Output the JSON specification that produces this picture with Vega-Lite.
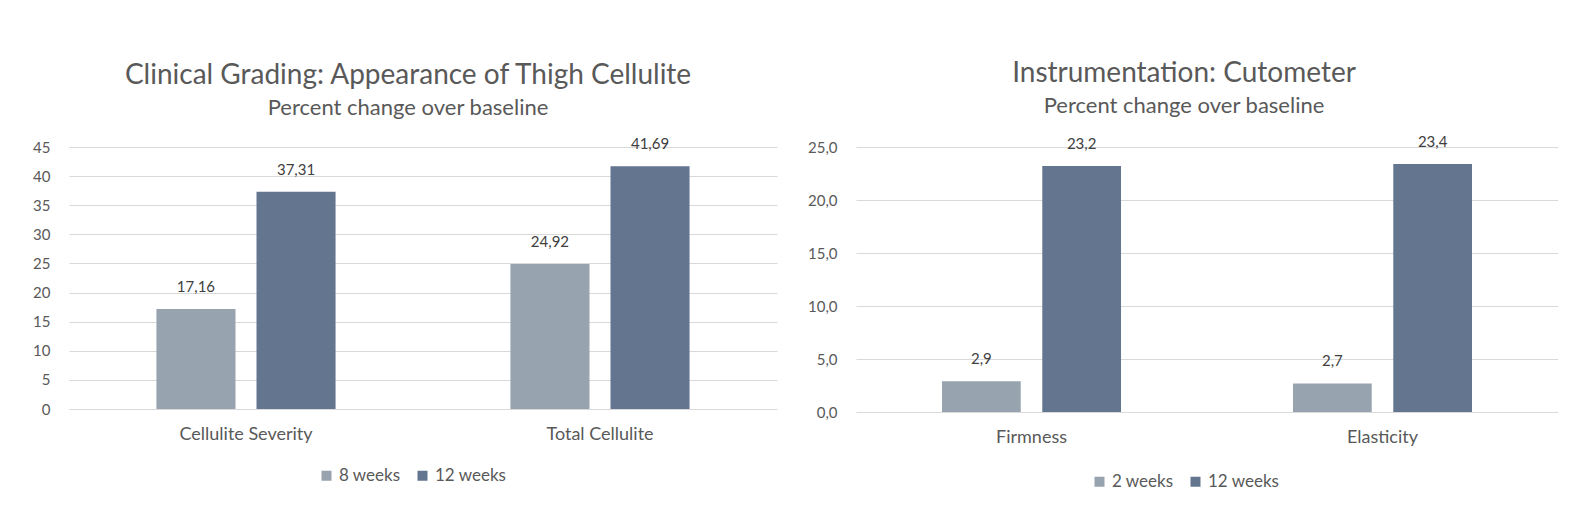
{
  "$schema": "https://vega.github.io/schema/vega-lite/v6.json",
  "background": "white",
  "padding": {"left": 32, "top": 59, "right": 0, "bottom": 0},
  "spacing": 30,
  "resolve": {"scale": {"x": "independent", "y": "independent", "xOffset": "independent", "color": "independent"}, "legend": {"color": "independent"}},
  "config": {
    "locale": {"number": {"decimal": ",", "thousands": ".", "grouping": [3], "currency": ["", " €"]}},
    "font": "Lato",
    "view": {"stroke": null},
    "axis": {"labelFont": "Lato", "labelFontSize": 15, "labelColor": "#595959", "ticks": false, "domain": false, "title": null, "gridColor": "#D9D9D9", "gridWidth": 1},
    "axisY": {"labelPadding": 19},
    "axisX": {"labelPadding": 16, "labelAngle": 0, "grid": false, "labelFontSize": 18},
    "title": {"font": "Lato", "fontSize": 28, "fontWeight": "normal", "color": "#595959", "subtitleFont": "Lato", "subtitleFontSize": 22, "subtitleColor": "#595959", "subtitlePadding": 8, "offset": 18, "anchor": "middle", "frame": "group"},
    "legend": {"orient": "none", "direction": "horizontal", "title": null, "symbolType": "square", "symbolSize": 100, "symbolStrokeWidth": 0, "labelFont": "Lato", "labelFontSize": 17, "labelColor": "#595959", "columnPadding": 13, "labelOffset": 4},
    "text": {"font": "Lato", "fontSize": 15, "fill": "#404040"}
  },
  "hconcat": [
    {
      "width": 708,
      "height": 262,
      "title": {"text": "Clinical Grading: Appearance of Thigh Cellulite", "subtitle": "Percent change over baseline", "dx": -15},
      "data": {"values": [
        {"category": "Cellulite Severity", "period": "8 weeks", "value": 17.16},
        {"category": "Cellulite Severity", "period": "12 weeks", "value": 37.31},
        {"category": "Total Cellulite", "period": "8 weeks", "value": 24.92},
        {"category": "Total Cellulite", "period": "12 weeks", "value": 41.69}
      ]},
      "encoding": {
        "x": {"field": "category", "type": "nominal", "sort": ["Cellulite Severity", "Total Cellulite"], "scale": {"paddingInner": 0.494, "paddingOuter": 0.247}},
        "xOffset": {"field": "period", "type": "nominal", "sort": ["8 weeks", "12 weeks"], "scale": {"paddingInner": 0.21, "paddingOuter": 0}},
        "y": {"field": "value", "type": "quantitative", "scale": {"domain": [0, 45], "nice": false}, "axis": {"values": [0, 5, 10, 15, 20, 25, 30, 35, 40, 45], "format": "d"}}
      },
      "layer": [
        {"mark": {"type": "bar"}, "encoding": {"color": {"field": "period", "type": "nominal", "scale": {"domain": ["8 weeks", "12 weeks"], "range": ["#97A3AF", "#63758F"]}, "legend": {"legendX": 249, "legendY": 320}}}},
        {"mark": {"type": "text", "baseline": "middle", "dy": -22}, "encoding": {"text": {"field": "value", "type": "quantitative", "format": ".2f"}}}
      ]
    },
    {
      "width": 702,
      "height": 265,
      "title": {"text": "Instrumentation: Cutometer", "subtitle": "Percent change over baseline", "dx": -23},
      "data": {"values": [
        {"category": "Firmness", "period": "2 weeks", "value": 2.9},
        {"category": "Firmness", "period": "12 weeks", "value": 23.2},
        {"category": "Elasticity", "period": "2 weeks", "value": 2.7},
        {"category": "Elasticity", "period": "12 weeks", "value": 23.4}
      ]},
      "encoding": {
        "x": {"field": "category", "type": "nominal", "sort": ["Firmness", "Elasticity"], "scale": {"paddingInner": 0.49, "paddingOuter": 0.245}},
        "xOffset": {"field": "period", "type": "nominal", "sort": ["2 weeks", "12 weeks"], "scale": {"paddingInner": 0.215, "paddingOuter": 0}},
        "y": {"field": "value", "type": "quantitative", "scale": {"domain": [0, 25], "nice": false}, "axis": {"values": [0, 5, 10, 15, 20, 25], "format": ".1f"}}
      },
      "layer": [
        {"mark": {"type": "bar"}, "encoding": {"color": {"field": "period", "type": "nominal", "scale": {"domain": ["2 weeks", "12 weeks"], "range": ["#97A3AF", "#63758F"]}, "legend": {"legendX": 235, "legendY": 326}}}},
        {"mark": {"type": "text", "baseline": "middle", "dy": -22}, "encoding": {"text": {"field": "value", "type": "quantitative", "format": ".1f"}}}
      ]
    }
  ]
}
